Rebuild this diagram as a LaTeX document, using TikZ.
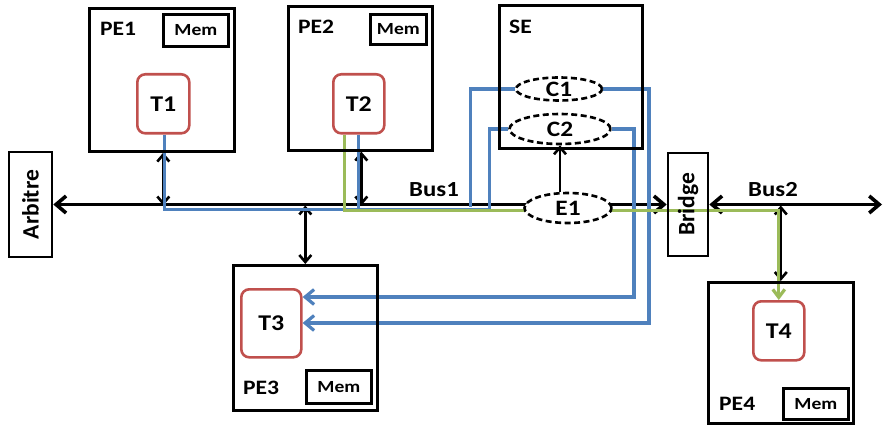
\documentclass[tikz,border=0pt]{standalone}
\usepackage{fontspec}
\setmainfont{Carlito}
\newfontfamily\labfont[FakeStretch=1.15]{Carlito}
\usetikzlibrary{arrows.meta,shapes.geometric}
\definecolor{obl}{HTML}{4F81BD}
\definecolor{ogr}{HTML}{9BBB59}
\definecolor{ord}{HTML}{C0504D}
\pgfdeclarelayer{bg}
\pgfsetlayers{bg,main}
\tikzset{
  pebox/.style={draw, line width=2.6pt, inner sep=0pt, anchor=north west},
  membox/.style={draw, line width=2.8pt, inner sep=0pt, anchor=north west,
    font=\labfont\bfseries\fontsize{17}{17}\selectfont},
  taskbox/.style={draw=ord, line width=2.6pt, rounded corners=8pt, inner sep=0pt,
    anchor=north west, font=\labfont\bfseries\fontsize{22.5}{22.5}\selectfont},
  pelabel/.style={anchor=west, inner sep=0pt, font=\labfont\bfseries\fontsize{20.5}{20.5}\selectfont},
  buslabel/.style={inner sep=0pt, font=\labfont\bfseries\fontsize{21.5}{21.5}\selectfont},
  sidebox/.style={draw, line width=2.6pt, inner sep=0pt, rotate=90,
    font=\bfseries\fontsize{23.5}{23.5}\selectfont},
  evt/.style={ellipse, draw, dash pattern=on 6pt off 3.5pt, line width=2.6pt, fill=white,
    inner sep=0pt, font=\labfont\bfseries\fontsize{22}{22}\selectfont},
  bus/.style={line width=3.6pt, {Straight Barb[length=10pt,width=17pt]}-{Straight Barb[length=10pt,width=17pt]}},
  link/.style={line width=2.6pt, {Straight Barb[length=7pt,width=12pt]}-{Straight Barb[length=7pt,width=12pt]}},
  blueline/.style={draw=obl, line width=3.2pt},
  greenline/.style={draw=ogr, line width=3.2pt},
}
\begin{document}
\begin{tikzpicture}[x=1pt,y=-1pt]
\useasboundingbox (0,0) rectangle (884,425);

% PE1
\node[pebox, minimum width=145pt, minimum height=143pt] (pe1) at (88,7) {};
\node[membox, minimum width=65pt, minimum height=32pt] (pe1mem) at (162,13) {Mem};
\node[pelabel] (pe1lab) at (100,29) {PE1};
\node[taskbox, minimum width=52pt, minimum height=59pt] (t1) at (136,73) {T1};

% PE2
\node[pebox, minimum width=144pt, minimum height=144pt] (pe2) at (287,5) {};
\node[membox, minimum width=56pt, minimum height=30pt] (pe2mem) at (369,13) {Mem};
\node[pelabel] (pe2lab) at (298,27) {PE2};
\node[taskbox, minimum width=51pt, minimum height=59pt] (t2) at (332,73) {T2};

% SE
\node[pebox, minimum width=143pt, minimum height=143pt] (se) at (498,4) {};
\node[pelabel] (selab) at (509,27) {SE};

% PE3
\node[pebox, minimum width=144pt, minimum height=145pt] (pe3) at (232,264) {};
\node[taskbox, minimum width=60pt, minimum height=68pt] (t3) at (240,288) {T3};
\node[membox, minimum width=65pt, minimum height=33pt] (pe3mem) at (305,369) {Mem};
\node[pelabel] (pe3lab) at (243,388) {PE3};

% PE4
\node[pebox, minimum width=145pt, minimum height=141pt] (pe4) at (707,281) {};
\node[taskbox, minimum width=51pt, minimum height=59pt] (t4) at (752,300) {T4};
\node[membox, minimum width=65pt, minimum height=31pt] (pe4mem) at (782,387) {Mem};
\node[pelabel] (pe4lab) at (719,404) {PE4};

% Arbitre and Bridge
\node[sidebox, minimum width=105pt, minimum height=43pt] (arb) at (30.5,204.5) {Arbitre};
\node[sidebox, minimum width=103pt, minimum height=40pt] (bridge) at (688,204.5) {Bridge};

% ellipses
\node[evt, minimum width=86pt, minimum height=23pt] (c1) at (559,89) {C1};
\node[evt, minimum width=101pt, minimum height=30pt] (c2) at (560,129) {C2};
\node[evt, minimum width=87pt, minimum height=30pt] (e1) at (568,208) {E1};

% bus labels
\node[buslabel] (bus1lab) at (434,190) {Bus1};
\node[buslabel] (bus2lab) at (773,190) {Bus2};
\coordinate (bus2end) at (882,204.5);

\begin{pgfonlayer}{bg}
  % buses
  \draw[bus] (arb.south) -- (bridge.north);
  \draw[bus] (bridge.south) -- (bus2end);
  % PE links
  \draw[link] ([xshift=1.5pt]pe1.south) -- ([xshift=1.5pt,yshift=-1pt]pe1.south |- arb.south);
  \draw[link] ([xshift=1pt]pe2.south) -- ([xshift=1pt,yshift=-1pt]pe2.south |- arb.south);
  \draw[link] ([yshift=-1pt]pe3.north |- arb.south) -- (pe3.north);
  \draw[link] ([yshift=-1pt]pe4.north |- bridge.south) -- (pe4.north);
  % E1 -> C2
  \draw[line width=2.6pt, -{Straight Barb[length=7pt,width=12pt]}] (c2.south |- e1.north) -- (c2.south);
  % blue flows
  \draw[blueline] ([xshift=1pt]t1.south) -- ++(0,75) -- ++(325,0) |- (c2.west);
  \draw[blueline] (t2.south) -- ++(0,75);
  \draw[blueline] (c1.west) -- ++(-44,0) -- ++(0,118);
  \draw[blueline, -{Straight Barb[length=9pt,width=15pt]}] (c1.east) -| (649,323) -- (t3.east |- 0,323);
  \draw[blueline, -{Straight Barb[length=9pt,width=15pt]}] (c2.east) -| (634,297) -- (t3.east |- 0,297);
  % green flow
  \draw[greenline, -{Straight Barb[length=8pt,width=12pt]}] ([xshift=-14.5pt]t2.south) -- ++(0,76) -| (t4.north);
\end{pgfonlayer}
\end{tikzpicture}
\end{document}
